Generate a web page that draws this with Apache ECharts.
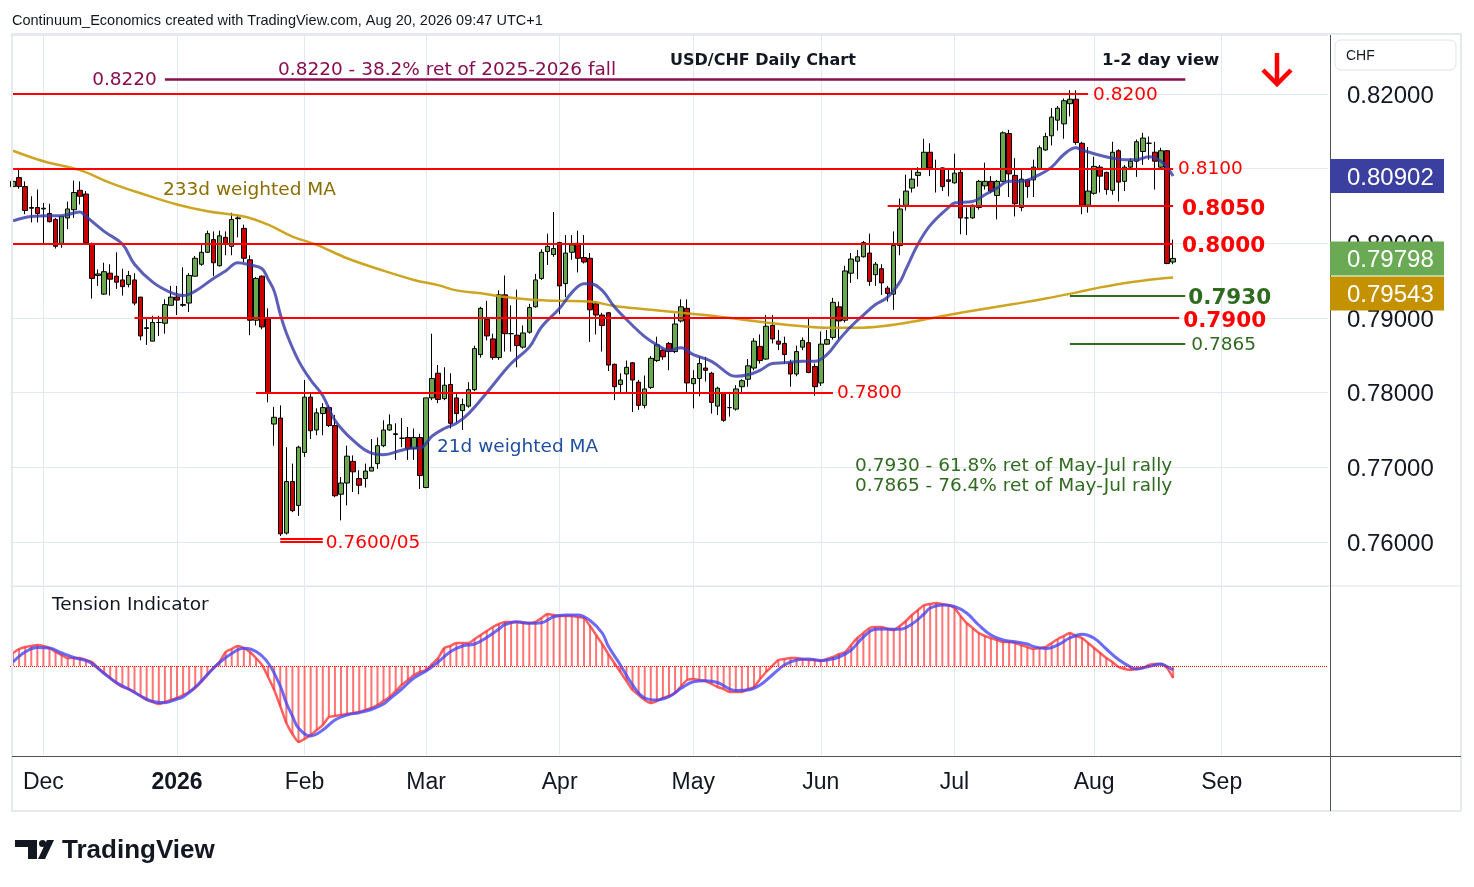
<!DOCTYPE html>
<html>
<head>
<meta charset="utf-8">
<title>USD/CHF Daily Chart</title>
<script src="https://cdn.jsdelivr.net/npm/echarts@6/dist/echarts.min.js"></script>
<style>
  html, body { margin: 0; padding: 0; background: #fff; }
  #chart { width: 1474px; height: 887px; }
</style>
</head>
<body>
<div id="chart"></div>
<script>
// daily candles, one row per trading day: [open, high, low, close]
var nov = [
    [0.8076, 0.8090, 0.8060, 0.8083], [0.8088, 0.8101, 0.8073, 0.8076], [0.8076, 0.8083, 0.8039, 0.8044],
    [0.8048, 0.8063, 0.8028, 0.8047], [0.8048, 0.8072, 0.8028, 0.8040]
];
var dec = [
    [0.8046, 0.8054, 0.7999, 0.8047], [0.8040, 0.8053, 0.8028, 0.8029], [0.8032, 0.8034, 0.7993, 0.7996],
    [0.8000, 0.8037, 0.7994, 0.8036], [0.8034, 0.8056, 0.8019, 0.8046], [0.8045, 0.8084, 0.8034, 0.8068],
    [0.8071, 0.8083, 0.8052, 0.8063], [0.8066, 0.8070, 0.7999, 0.8001], [0.7999, 0.8001, 0.7926, 0.7953],
    [0.7957, 0.7965, 0.7943, 0.7959], [0.7932, 0.7974, 0.7931, 0.7962], [0.7960, 0.7972, 0.7930, 0.7952],
    [0.7956, 0.7988, 0.7939, 0.7948], [0.7951, 0.7966, 0.7930, 0.7942], [0.7945, 0.7963, 0.7941, 0.7957],
    [0.7951, 0.7960, 0.7917, 0.7920], [0.7928, 0.7928, 0.7870, 0.7876], [0.7886, 0.7900, 0.7864, 0.7887],
    [0.7869, 0.7903, 0.7869, 0.7894], [0.7894, 0.7903, 0.7876, 0.7894], [0.7893, 0.7925, 0.7879, 0.7918],
    [0.7917, 0.7943, 0.7917, 0.7928]
];
var jan = [
    [0.7928, 0.7943, 0.7904, 0.7924], [0.7917, 0.7968, 0.7915, 0.7918], [0.7920, 0.7960, 0.7908, 0.7957],
    [0.7956, 0.7983, 0.7956, 0.7980], [0.7972, 0.7999, 0.7970, 0.7988], [0.7988, 0.8017, 0.7987, 0.8013],
    [0.8005, 0.8016, 0.7956, 0.7974], [0.7970, 0.8017, 0.7969, 0.8010], [0.8008, 0.8016, 0.7984, 0.8000],
    [0.7996, 0.8041, 0.7984, 0.8032], [0.8034, 0.8038, 0.8008, 0.8033], [0.8020, 0.8025, 0.7975, 0.7980],
    [0.7978, 0.7984, 0.7877, 0.7897], [0.7897, 0.7955, 0.7890, 0.7953], [0.7956, 0.7957, 0.7885, 0.7888],
    [0.7899, 0.7913, 0.7787, 0.7800], [0.7758, 0.7781, 0.7729, 0.7767], [0.7766, 0.7783, 0.7608, 0.7611],
    [0.7612, 0.7727, 0.7610, 0.7681], [0.7681, 0.7705, 0.7640, 0.7642], [0.7649, 0.7729, 0.7635, 0.7727]
];
var feb = [
    [0.7720, 0.7817, 0.7714, 0.7794], [0.7794, 0.7800, 0.7738, 0.7749], [0.7750, 0.7779, 0.7743, 0.7773],
    [0.7772, 0.7786, 0.7743, 0.7780], [0.7780, 0.7783, 0.7754, 0.7756], [0.7756, 0.7770, 0.7660, 0.7662],
    [0.7664, 0.7687, 0.7629, 0.7679], [0.7679, 0.7729, 0.7649, 0.7715], [0.7708, 0.7716, 0.7667, 0.7694],
    [0.7685, 0.7696, 0.7664, 0.7676], [0.7685, 0.7705, 0.7673, 0.7695], [0.7695, 0.7738, 0.7695, 0.7700],
    [0.7705, 0.7740, 0.7698, 0.7729], [0.7729, 0.7763, 0.7727, 0.7750], [0.7750, 0.7771, 0.7749, 0.7757],
    [0.7744, 0.7759, 0.7710, 0.7745], [0.7739, 0.7766, 0.7727, 0.7739], [0.7740, 0.7754, 0.7710, 0.7725],
    [0.7725, 0.7752, 0.7710, 0.7740], [0.7740, 0.7745, 0.7671, 0.7689]
];
var mar = [
    [0.7673, 0.7793, 0.7672, 0.7793], [0.7793, 0.7879, 0.7790, 0.7819], [0.7826, 0.7837, 0.7786, 0.7791],
    [0.7792, 0.7834, 0.7790, 0.7810], [0.7811, 0.7826, 0.7752, 0.7759], [0.7793, 0.7799, 0.7760, 0.7772],
    [0.7776, 0.7792, 0.7750, 0.7784], [0.7782, 0.7814, 0.7780, 0.7804], [0.7804, 0.7863, 0.7802, 0.7859],
    [0.7851, 0.7915, 0.7847, 0.7913], [0.7898, 0.7923, 0.7870, 0.7876], [0.7872, 0.7879, 0.7844, 0.7847],
    [0.7847, 0.7937, 0.7844, 0.7931], [0.7931, 0.7957, 0.7855, 0.7879], [0.7879, 0.7917, 0.7855, 0.7879],
    [0.7877, 0.7938, 0.7834, 0.7863], [0.7861, 0.7890, 0.7859, 0.7880], [0.7881, 0.7919, 0.7879, 0.7914],
    [0.7915, 0.7959, 0.7914, 0.7951], [0.7953, 0.7992, 0.7951, 0.7988], [0.7989, 0.8013, 0.7971, 0.7996],
    [0.7985, 0.8042, 0.7982, 0.7993]
];
var apr = [
    [0.8001, 0.8002, 0.7905, 0.7943], [0.7946, 0.8011, 0.7928, 0.7987], [0.7988, 0.8011, 0.7978, 0.7998],
    [0.8000, 0.8017, 0.7961, 0.7980], [0.7981, 0.8011, 0.7973, 0.7975], [0.7980, 0.7987, 0.7868, 0.7911],
    [0.7919, 0.7922, 0.7878, 0.7904], [0.7904, 0.7907, 0.7855, 0.7890], [0.7907, 0.7908, 0.7829, 0.7837],
    [0.7838, 0.7839, 0.7790, 0.7808], [0.7811, 0.7826, 0.7799, 0.7817], [0.7825, 0.7843, 0.7800, 0.7834],
    [0.7840, 0.7841, 0.7774, 0.7817], [0.7814, 0.7817, 0.7777, 0.7783], [0.7783, 0.7823, 0.7779, 0.7805],
    [0.7807, 0.7849, 0.7805, 0.7846], [0.7843, 0.7875, 0.7841, 0.7864], [0.7857, 0.7859, 0.7844, 0.7848],
    [0.7866, 0.7868, 0.7830, 0.7855], [0.7855, 0.7906, 0.7853, 0.7892], [0.7896, 0.7925, 0.7894, 0.7915],
    [0.7913, 0.7925, 0.7799, 0.7813]
];
var may = [
    [0.7812, 0.7830, 0.7779, 0.7819], [0.7819, 0.7848, 0.7795, 0.7839], [0.7833, 0.7848, 0.7815, 0.7830],
    [0.7826, 0.7828, 0.7772, 0.7787], [0.7782, 0.7808, 0.7770, 0.7806], [0.7799, 0.7801, 0.7761, 0.7763],
    [0.7780, 0.7801, 0.7768, 0.7780], [0.7778, 0.7810, 0.7776, 0.7805], [0.7808, 0.7818, 0.7801, 0.7816],
    [0.7818, 0.7845, 0.7808, 0.7836], [0.7833, 0.7873, 0.7830, 0.7869], [0.7862, 0.7878, 0.7839, 0.7843],
    [0.7845, 0.7904, 0.7844, 0.7889], [0.7890, 0.7904, 0.7866, 0.7872], [0.7869, 0.7884, 0.7857, 0.7865],
    [0.7866, 0.7875, 0.7839, 0.7851], [0.7840, 0.7844, 0.7808, 0.7825], [0.7825, 0.7863, 0.7822, 0.7855],
    [0.7861, 0.7874, 0.7857, 0.7870], [0.7867, 0.7899, 0.7826, 0.7827], [0.7835, 0.7839, 0.7796, 0.7808]
];
var jun = [
    [0.7813, 0.7882, 0.7809, 0.7865], [0.7865, 0.7884, 0.7864, 0.7871], [0.7874, 0.7927, 0.7871, 0.7921],
    [0.7915, 0.7922, 0.7871, 0.7896], [0.7897, 0.7970, 0.7894, 0.7963], [0.7960, 0.7987, 0.7947, 0.7979],
    [0.7976, 0.7991, 0.7952, 0.7982], [0.7982, 0.8003, 0.7981, 0.8001], [0.7987, 0.8013, 0.7943, 0.7949],
    [0.7958, 0.7975, 0.7943, 0.7972], [0.7966, 0.7972, 0.7931, 0.7947], [0.7940, 0.7943, 0.7922, 0.7933],
    [0.7932, 0.8016, 0.7911, 0.7997], [0.7997, 0.8060, 0.7984, 0.8046], [0.8051, 0.8092, 0.8044, 0.8070],
    [0.8074, 0.8098, 0.8068, 0.8086], [0.8091, 0.8102, 0.8076, 0.8095], [0.8100, 0.8140, 0.8099, 0.8122],
    [0.8122, 0.8134, 0.8090, 0.8101], [0.8100, 0.8112, 0.8068, 0.8099], [0.8101, 0.8102, 0.8070, 0.8076],
    [0.8085, 0.8101, 0.8063, 0.8083]
];
var jul = [
    [0.8081, 0.8120, 0.8080, 0.8094], [0.8095, 0.8099, 0.8012, 0.8034], [0.8034, 0.8048, 0.8011, 0.8034],
    [0.8034, 0.8052, 0.8033, 0.8051], [0.8048, 0.8085, 0.8045, 0.8083], [0.8077, 0.8108, 0.8072, 0.8083],
    [0.8083, 0.8090, 0.8067, 0.8070], [0.8064, 0.8085, 0.8032, 0.8083], [0.8083, 0.8150, 0.8082, 0.8148],
    [0.8147, 0.8152, 0.8062, 0.8093], [0.8091, 0.8114, 0.8036, 0.8053], [0.8048, 0.8099, 0.8043, 0.8086],
    [0.8085, 0.8086, 0.8061, 0.8076], [0.8085, 0.8112, 0.8062, 0.8102], [0.8099, 0.8131, 0.8098, 0.8128],
    [0.8125, 0.8148, 0.8124, 0.8143], [0.8144, 0.8181, 0.8131, 0.8169], [0.8165, 0.8184, 0.8151, 0.8181],
    [0.8160, 0.8194, 0.8140, 0.8191], [0.8187, 0.8205, 0.8170, 0.8193], [0.8193, 0.8205, 0.8132, 0.8135],
    [0.8134, 0.8136, 0.8039, 0.8051], [0.8051, 0.8129, 0.8041, 0.8070]
];
var aug = [
    [0.8067, 0.8116, 0.8065, 0.8103], [0.8102, 0.8105, 0.8068, 0.8090], [0.8095, 0.8096, 0.8065, 0.8072],
    [0.8071, 0.8136, 0.8065, 0.8122], [0.8124, 0.8126, 0.8056, 0.8082], [0.8083, 0.8105, 0.8070, 0.8102],
    [0.8102, 0.8114, 0.8100, 0.8110], [0.8110, 0.8139, 0.8089, 0.8136], [0.8123, 0.8148, 0.8105, 0.8141],
    [0.8134, 0.8143, 0.8112, 0.8134], [0.8122, 0.8136, 0.8072, 0.8110], [0.8102, 0.8128, 0.8099, 0.8124],
    [0.8124, 0.8125, 0.7972, 0.7973], [0.7975, 0.8005, 0.7972, 0.79798]
];
var ohlc = [].concat(nov, dec, jan, feb, mar, apr, may, jun, jul, aug);

// moving averages: [bar index, value]
var wma21 = [
    [0, 0.8030], [3, 0.8036], [6, 0.8037], [8, 0.8037], [11, 0.8042], [12, 0.8036], [15, 0.8016],
    [18, 0.7999], [20, 0.7972], [23, 0.7948], [26, 0.7934], [28, 0.7930], [30, 0.7936], [33, 0.7953],
    [35, 0.7963], [37, 0.7974], [39, 0.7971], [41, 0.7966], [42, 0.7952], [43, 0.7936], [44, 0.7905],
    [45, 0.7880], [47, 0.7843], [49, 0.7817], [51, 0.7796], [53, 0.7763], [56, 0.7736], [59, 0.7719],
    [61, 0.7717], [64, 0.7723], [66, 0.7726], [67, 0.7726], [69, 0.7742], [71, 0.7752], [73, 0.7759],
    [75, 0.7772], [78, 0.7800], [82, 0.7839], [85, 0.7861], [87, 0.7888], [90, 0.7913], [92, 0.7934],
    [94, 0.7946], [95, 0.7946], [97, 0.7937], [99, 0.7915], [102, 0.7890], [104, 0.7875], [106, 0.7864],
    [108, 0.7857], [110, 0.7860], [112, 0.7851], [115, 0.7842], [118, 0.7824], [119, 0.7822], [121, 0.7824],
    [123, 0.7830], [125, 0.7839], [127, 0.7840], [130, 0.7842], [132, 0.7842], [134, 0.7851], [136, 0.7871],
    [138, 0.7889], [140, 0.7904], [142, 0.7918], [144, 0.7928], [146, 0.7948], [147, 0.7965], [149, 0.7999],
    [151, 0.8024], [154, 0.8048], [155, 0.8054], [158, 0.8056], [160, 0.8065], [162, 0.8074], [164, 0.8083],
    [166, 0.8083], [169, 0.8092], [171, 0.8102], [173, 0.8119], [175, 0.8128], [176, 0.8125], [178, 0.8120],
    [181, 0.8114], [183, 0.8112], [185, 0.8112], [187, 0.8116], [189, 0.8110], [191, 0.80902]
];
var wma233 = [
    [0, 0.8124], [5, 0.8110], [11, 0.8098], [16, 0.8081], [21, 0.8067], [27, 0.8052], [32, 0.8043],
    [38, 0.8036], [42, 0.8025], [46, 0.8009], [50, 0.7998], [55, 0.7980], [60, 0.7966], [66, 0.7951],
    [70, 0.7944], [73, 0.7937], [77, 0.7933], [81, 0.7928], [86, 0.7924], [90, 0.7923], [95, 0.7922],
    [99, 0.7916], [105, 0.7911], [110, 0.7907], [114, 0.7904], [119, 0.7899], [125, 0.7893], [130, 0.7889],
    [134, 0.7887], [139, 0.7887], [143, 0.7889], [148, 0.7895], [154, 0.7904], [159, 0.7911], [165, 0.7919],
    [170, 0.7926], [175, 0.7934], [179, 0.7941], [184, 0.7948], [189, 0.7953], [191, 0.79543]
];

// tension indicator (arbitrary units, 0 = dotted line), one value per bar
var tension = [
    13, 17, 19, 20, 21, 20, 18, 14, 11, 8,
    8, 8, 6, 4, -2, -7, -12, -17, -21, -23,
    -26, -30, -34, -36, -38, -36, -34, -32, -29, -26,
    -22, -16, -9, -2, 4, 14, 17, 20, 18, 14,
    8, 1, -11, -24, -40, -57, -68, -76, -73, -69,
    -64, -59, -51, -50, -49, -48, -47, -46, -44, -42,
    -39, -35, -31, -25, -19, -14, -9, -6, -4, 2,
    8, 18, 20, 23, 23, 23, 27, 31, 35, 39,
    42, 44, 44, 44, 43, 43, 44, 48, 52, 51,
    50, 50, 50, 49, 48, 40, 31, 22, 12, 3,
    -6, -15, -24, -29, -34, -37, -35, -32, -30, -27,
    -20, -14, -13, -14, -15, -18, -21, -23, -26, -26,
    -26, -23, -21, -13, -6, 0, 6, 7, 8, 8,
    7, 6, 6, 5, 7, 9, 12, 14, 21, 28,
    33, 38, 39, 39, 37, 36, 40, 45, 51, 56,
    61, 62, 63, 62, 61, 58, 50, 43, 38, 33,
    30, 28, 26, 24, 24, 23, 21, 19, 17, 18,
    19, 23, 27, 30, 33, 30, 28, 23, 18, 13,
    8, 4, -1, -3, -4, -3, -2, 1, 2, 2,
    -2, -12
];
var tensionSignal = [
    [0, 4], [2, 14], [4, 18.5], [6, 18], [8, 13], [10, 8.5], [12, 5.5], [13, 2.5], [15, -7.5], [17, -16.5],
    [19, -23], [21, -30], [23, -35.5], [25, -36.7], [27, -33], [28, -31], [30, -21], [32, -8.5], [34, 3.5],
    [36, 12.5], [38, 17.7], [40, 14.5], [42, 3], [44, -20], [45, -37], [46, -50], [47, -62], [49, -70],
    [51, -64], [53, -54], [55, -49], [57, -46.7], [59, -43.5], [61, -38], [62, -33], [64, -23], [66, -12],
    [68, -5], [70, 4], [72, 14.3], [74, 20], [76, 22], [78, 28.5], [80, 37], [81, 41.5], [83, 44.3],
    [85, 42.7], [87, 43.3], [89, 49.3], [91, 51], [93, 51], [95, 45.5], [97, 33], [98, 20], [100, 1],
    [102, -19], [104, -32], [106, -34], [108, -30.7], [110, -22.3], [112, -15.7], [114, -14.7], [116, -16.5],
    [118, -23], [119, -24.5], [121, -24], [123, -19], [125, -9], [127, 1], [129, 6], [131, 7], [133, 5.5],
    [134, 6], [136, 9], [138, 16], [140, 29], [142, 36.7], [144, 37], [146, 36.7], [148, 42], [150, 52],
    [151, 58], [153, 61], [155, 59.5], [157, 53], [159, 41], [161, 31], [163, 26], [165, 24.3], [167, 22],
    [168, 19.5], [170, 17.5], [172, 21], [174, 28], [176, 31.7], [178, 27.7], [180, 17], [182, 6.5],
    [184, -1], [185, -3], [187, -0.5], [189, 2], [190, -0.5], [191, -4]
];

// marked levels
var resistance = [0.8220, 0.8200, 0.8100, 0.8050, 0.8000];
var support = [0.7930, 0.7900, 0.7865, 0.7800, 0.7605, 0.7600];

// calendar: trading days from the first bar, plus empty days to the right edge
var firstDay = '2025-11-24';
var holidays = ['2025-12-25', '2026-01-01'];
var axisSlots = 217;
var monthNames = ['2026', 'Feb', 'Mar', 'Apr', 'May', 'Jun', 'Jul', 'Aug', 'Sep', 'Oct', 'Nov', 'Dec'];

var dates = [];
var day = new Date(firstDay + 'T00:00:00Z');
while (dates.length < axisSlots) {
    var iso = day.toISOString().slice(0, 10);
    var wd = day.getUTCDay();
    if (wd !== 0 && wd !== 6 && holidays.indexOf(iso) < 0) dates.push(iso);
    day.setUTCDate(day.getUTCDate() + 1);
}
function isMonthStart(i) {
    return i > 0 && dates[i].slice(5, 7) !== dates[i - 1].slice(5, 7);
}

var candles = ohlc.map(function (r) { return [r[0], r[3], r[2], r[1]]; });

var axisFont = '"Liberation Sans", Arial, sans-serif';
var noteFont = '"DejaVu Sans", Verdana, sans-serif';
var RED = '#ff0000', DKGREEN = '#2f6b1f', PURPLE = '#880e4f', GRIDC = '#e3e9f1';

function level(value, from, to, color, width, text, big, side, gap) {
    var start = { coord: [from, value], lineStyle: { color: color, width: width, type: 'solid' } };
    start.label = text ? {
        show: true, position: side || 'end', distance: gap || 5, formatter: text, color: color,
        fontFamily: noteFont, fontSize: big ? 21.5 : 18.5, fontWeight: big ? 'bold' : 'normal',
        offset: big ? [0, 3] : [0, 1]
    } : { show: false };
    return [start, { coord: [to, value] }];
}

var levelLines = [
    level(resistance[0], 25, 193, PURPLE, 2.5, '0.8220', false, 'start', 8),
    level(resistance[1], 0, 177, RED, 2, '0.8200', false, 'end', 5),
    level(resistance[2], 0, 191, RED, 2, '0.8100', false, 'end', 5),
    level(resistance[3], 144, 191, RED, 2, '0.8050', true, 'end', 9),
    level(resistance[4], 0, 191, RED, 2, '0.8000', true, 'end', 9),
    level(support[0], 174, 193, DKGREEN, 2, '0.7930', true, 'end', 3),
    level(support[1], 20, 192, RED, 2, '0.7900', true, 'end', 4),
    level(support[2], 174, 193, DKGREEN, 2, '0.7865', false, 'end', 6),
    level(support[3], 40, 135, RED, 2, '0.7800', false, 'end', 4),
    level(support[4], 44, 51, RED, 2, null),
    level(support[5], 44, 51, RED, 2, '0.7600/05', false, 'end', 3)
];

var chart = echarts.init(document.getElementById('chart'));

function timeAxis(gridIndex, withLabels) {
    return {
        type: 'category', gridIndex: gridIndex, data: dates, boundaryGap: true,
        axisLine: { show: false }, axisTick: { show: false, alignWithLabel: true },
        splitLine: {
            show: true, alignWithLabel: true,
            interval: function (i) { return isMonthStart(i); },
            lineStyle: { color: GRIDC, width: 1 }
        },
        axisLabel: {
            show: withLabels, margin: 16,
            interval: function (i) { return isMonthStart(i); },
            color: '#131722', fontFamily: axisFont, fontSize: 23,
            formatter: function (v) {
                var m = parseInt(v.slice(5, 7), 10) - 1;
                return m === 0 ? '{y|' + monthNames[0] + '}' : monthNames[m];
            },
            rich: { y: { fontWeight: 'bold', fontFamily: axisFont, fontSize: 23, color: '#131722' } }
        }
    };
}

chart.setOption({
    animation: false,
    backgroundColor: '#ffffff',
    grid: [
        { left: 10, width: 1318, top: 35, height: 551 },
        { left: 10, width: 1318, top: 587, height: 168 }
    ],
    xAxis: [timeAxis(0, false), timeAxis(1, true)],
    yAxis: [
        {
            type: 'value', gridIndex: 0, position: 'right', min: 0.75411, max: 0.82790, splitNumber: 7,
            axisLine: { show: false }, axisTick: { show: false },
            splitLine: { lineStyle: { color: GRIDC } },
            axisLabel: {
                margin: 19, color: '#131722', fontFamily: axisFont, fontSize: 24,
                verticalAlign: 'top', padding: [-10, 0, 0, 0],
                showMinLabel: false, showMaxLabel: false,
                formatter: function (v) { return v.toFixed(5); }
            }
        },
        {
            type: 'value', gridIndex: 1, min: -89, max: 79,
            axisLine: { show: false }, axisTick: { show: false },
            axisLabel: { show: false }, splitLine: { show: false }
        }
    ],
    series: [
        {
            name: 'USD/CHF', type: 'candlestick', xAxisIndex: 0, yAxisIndex: 0, z: 2,
            barWidth: 5, data: candles,
            itemStyle: { color: '#6aa84f', color0: '#cc0000', borderColor: '#000', borderColor0: '#000', borderWidth: 1 }
        },
        {
            name: '233d weighted MA', type: 'line', xAxisIndex: 0, yAxisIndex: 0, z: 3,
            data: wma233, smooth: 0.4, showSymbol: false, symbol: 'none',
            lineStyle: { color: 'rgba(200,155,10,0.9)', width: 2.5 }
        },
        {
            name: '21d weighted MA', type: 'line', xAxisIndex: 0, yAxisIndex: 0, z: 3,
            data: wma21, smooth: 0.4, showSymbol: false, symbol: 'none',
            lineStyle: { color: 'rgba(50,55,165,0.8)', width: 3 }
        },
        {
            name: 'levels', type: 'line', xAxisIndex: 0, yAxisIndex: 0, z: 4,
            data: dates.map(function () { return null; }), symbol: 'none',
            markLine: { silent: true, symbol: ['none', 'none'], animation: false, data: levelLines }
        },
        {
            name: 'tension bars', type: 'bar', xAxisIndex: 1, yAxisIndex: 1, z: 2,
            data: tension, barWidth: 2,
            itemStyle: { color: 'rgba(255,70,70,0.75)' },
            markLine: {
                silent: true, symbol: ['none', 'none'], label: { show: false },
                lineStyle: { color: RED, type: 'dotted', width: 1 },
                data: [{ yAxis: 0 }]
            }
        },
        {
            name: 'tension', type: 'line', xAxisIndex: 1, yAxisIndex: 1, z: 3,
            data: tension, smooth: 0.2, symbol: 'none',
            lineStyle: { color: 'rgba(255,55,55,0.8)', width: 2.5 }
        },
        {
            name: 'signal', type: 'line', xAxisIndex: 1, yAxisIndex: 1, z: 4,
            data: tensionSignal, smooth: 0.4, symbol: 'none',
            lineStyle: { color: 'rgba(70,70,245,0.8)', width: 3 }
        }
    ]
});

// annotations, frame and price tags
function note(text, x, y, color, size, weight, family, z) {
    return {
        type: 'text', x: x, y: y + 2, z: z || 30, silent: true,
        style: {
            text: text, fill: color, fontSize: size, fontWeight: weight || 'normal',
            fontFamily: family || noteFont, align: 'left', verticalAlign: 'middle',
            textAlign: 'left', textVerticalAlign: 'middle'
        }
    };
}
function line(x1, y1, x2, y2, color, w) {
    return { type: 'line', z: 25, silent: true, shape: { x1: x1, y1: y1, x2: x2, y2: y2 }, style: { stroke: color, lineWidth: w } };
}
function tag(value, yc, color) {
    return [
        { type: 'rect', z: 40, silent: true, shape: { x: 1330, y: yc - 17, width: 114, height: 34 }, style: { fill: color } },
        note(value.toFixed(5), 1347, yc, '#ffffff', 24, 'normal', axisFont, 41)
    ];
}

var last = ohlc.length - 1;
var lastClose = ohlc[last][3];
var last21 = wma21[wma21.length - 1][1];
var last233 = wma233[wma233.length - 1][1];
var toY = function (v) { return chart.convertToPixel({ yAxisIndex: 0 }, v); };
var yClose = toY(lastClose);
var y21 = toY(last21);
var y233 = Math.max(toY(last233), yClose + 35);

var els = [
    { type: 'rect', z: 24, silent: true, shape: { x: 12, y: 34, width: 1449, height: 777 }, style: { fill: null, stroke: '#e6e9ef', lineWidth: 2 } },
    line(12, 586, 1461, 586, '#e0e3eb', 1),
    line(12, 756.5, 1461, 756.5, '#50535e', 1),
    line(1330.5, 35, 1330.5, 811, '#50535e', 1),
    { type: 'rect', z: 30, silent: true, shape: { x: 1335, y: 40, width: 121, height: 30, r: 6 }, style: { fill: '#fff', stroke: '#e0e3eb', lineWidth: 1 } },
    note('CHF', 1346, 54, '#131722', 14, 'normal', axisFont),
    note('Continuum_Economics created with TradingView.com, Aug 20, 2026 09:47 UTC+1', 12, 19, '#131722', 14.5, 'normal', axisFont),
    note('USD/CHF Daily Chart', 670, 59, '#131722', 16, 'bold'),
    note('1-2 day view', 1102, 59, '#131722', 16.5, 'bold'),
    { type: 'polyline', z: 30, silent: true, shape: { points: [[1277, 53], [1277, 84]] }, style: { stroke: RED, lineWidth: 4.5, fill: null } },
    { type: 'polyline', z: 30, silent: true, shape: { points: [[1263, 70], [1277, 84], [1291, 70]] }, style: { stroke: RED, lineWidth: 4.5, fill: null } },
    note('0.8220 - 38.2% ret of 2025-2026 fall', 278, 68, PURPLE, 18.5),
    note('233d weighted MA', 163, 188, '#8c6d00', 18.5),
    note('21d weighted MA', 437, 445, '#1f4e9e', 18.5),
    note('0.7930 - 61.8% ret of May-Jul rally', 855, 464, DKGREEN, 18.5),
    note('0.7865 - 76.4% ret of May-Jul rally', 855, 484, DKGREEN, 18.5),
    note('Tension Indicator', 52, 603, '#131722', 18.5),
    // TradingView mark
    { type: 'rect', z: 30, silent: true, shape: { x: 15, y: 840, width: 22, height: 7 }, style: { fill: '#131722' } },
    { type: 'rect', z: 30, silent: true, shape: { x: 28, y: 840, width: 9, height: 19 }, style: { fill: '#131722' } },
    { type: 'circle', z: 30, silent: true, shape: { cx: 42.5, cy: 843.5, r: 3.5 }, style: { fill: '#131722' } },
    { type: 'polygon', z: 30, silent: true, shape: { points: [[47, 840], [54, 840], [45, 859], [38, 859]] }, style: { fill: '#131722' } },
    note('TradingView', 62, 849, '#131722', 26, 'bold', axisFont)
];
els = els.concat(tag(last21, y21, '#3a3fa0'), tag(lastClose, yClose, '#6aaa54'), tag(last233, y233, '#c49200'));

chart.setOption({ graphic: { elements: els } });
window.addEventListener('resize', function () { chart.resize(); });
</script>
</body>
</html>
